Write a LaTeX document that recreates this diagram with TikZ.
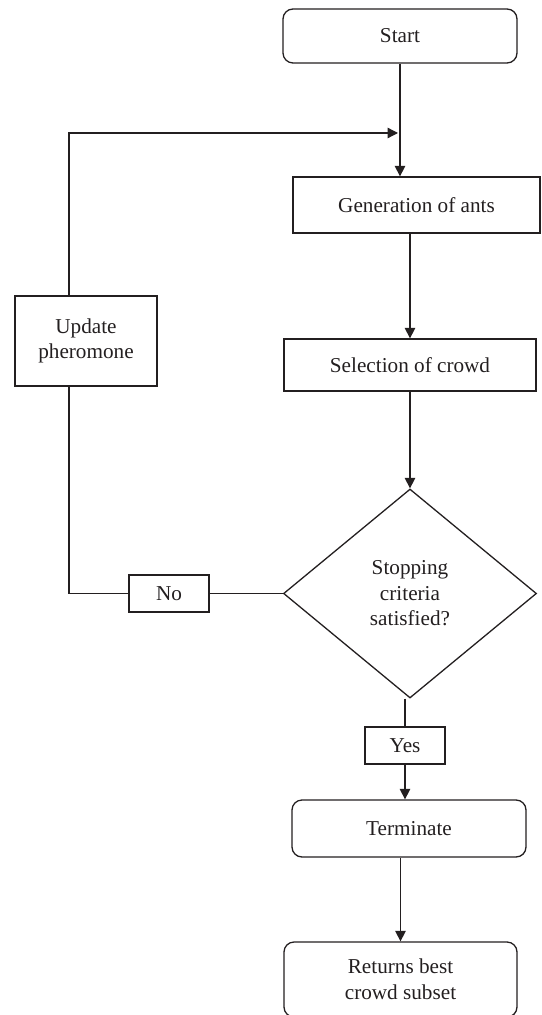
\documentclass[tikz,border=0pt]{standalone}
\usepackage{fontspec}
\setmainfont{Liberation Serif}
\usetikzlibrary{arrows.meta,shapes.geometric}
\definecolor{ink}{HTML}{231F20}
\begin{document}
\begin{tikzpicture}[x=0.5pt, y=-0.5pt, color=ink, line width=0.65pt,
    >={Triangle[length=5.2pt,width=5.2pt]},
    flow/.style={draw, align=center, inner sep=2pt, font=\fontsize{10.6}{12.8}\selectfont},
    endbox/.style={flow, rounded corners=5pt},
    stepbox/.style={flow, rectangle},
    test/.style={flow, diamond, inner sep=0pt},
    tag/.style={flow, minimum width=40pt, minimum height=18.5pt}]
    \useasboundingbox (0,0) rectangle (541,1015);
    % main column
    \node[endbox, minimum width=117pt, minimum height=27pt] (start) at (400,36) {Start};
    \node[stepbox, minimum width=123.5pt, minimum height=28pt] (gen) at (416.5,205) {Generation of ants};
    \node[stepbox, minimum width=126pt, minimum height=26pt] (sel) at (410,365) {Selection of crowd};
    \node[test, minimum width=126.5pt, minimum height=104.5pt] (dec) at (410,593.5) {Stopping\\criteria\\satisfied?};
    \node[tag] (yes) at (405,745.5) {Yes};
    \node[endbox, minimum width=117pt, minimum height=28.5pt] (term) at (409,828.5) {Terminate};
    \node[endbox, minimum width=116.5pt, minimum height=37.5pt] (ret) at (400.5,979.5) {Returns best\\crowd subset};
    % loop back
    \node[tag] (no) at (169,593.5) {No};
    \node[stepbox, minimum width=71pt, minimum height=45pt] (upd) at (86,341) {Update\\pheromone};
    \coordinate (bend) at (69,133);
    \coordinate (merge) at (398,133);
    \draw[->] (start.south) -- (start.south |- gen.north);
    \draw[->] (sel.north |- gen.south) -- (sel.north);
    \draw[->] (sel.south) -- (dec.north);
    \draw (yes.north |- dec.south) -- (yes.north);
    \draw[->] (yes.south) -- (yes.south |- term.north);
    \draw[->] (ret.north |- term.south) -- (ret.north);
    \draw (dec.west) -- (no.east);
    \draw (no.west) -| (bend |- upd.south);
    \draw[->] (bend |- upd.north) -- (bend) -- (merge);
\end{tikzpicture}
\end{document}
